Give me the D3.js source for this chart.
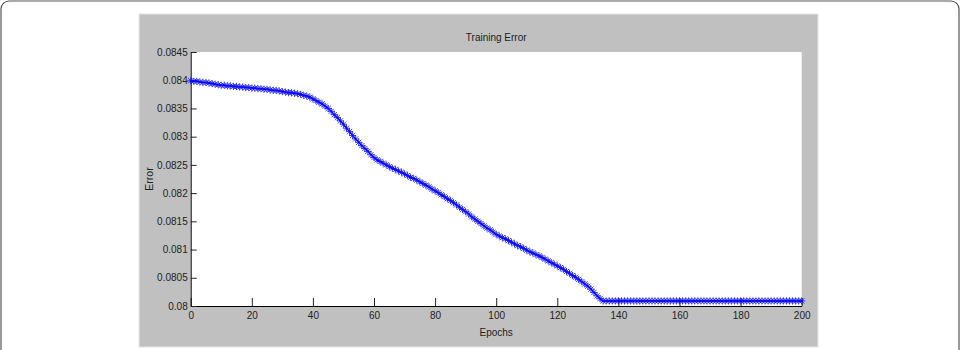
<!DOCTYPE html>
<html>
<head>
<meta charset="utf-8">
<script src="https://cdn.jsdelivr.net/npm/d3@7"></script>
<style>
  body { margin: 0; background: #ffffff; }
  svg { display: block; }
  .tick text { font-family: "Liberation Sans Narrow", "Arial Narrow", "Liberation Sans", Arial, sans-serif; font-size: 10px; fill: #222; }
  .lbl { font-family: "Liberation Sans Narrow", "Arial Narrow", "Liberation Sans", Arial, sans-serif; font-size: 10px; fill: #222; }
</style>
</head>
<body>
<div id="chart"></div>
<script>
// training error per epoch (0..200)
var epochs = d3.range(0, 201);
var errorValues = [
    0.08399, 0.08398, 0.08398, 0.08397, 0.08396, 0.08396, 0.08395, 0.08394, 0.08393, 0.08392,
    0.08391, 0.08391, 0.08390, 0.08390, 0.08389, 0.08389, 0.08388, 0.08388, 0.08387, 0.08387,
    0.08386, 0.08386, 0.08385, 0.08385, 0.08384, 0.08384, 0.08383, 0.08382, 0.08382, 0.08381,
    0.08380, 0.08379, 0.08378, 0.08378, 0.08377, 0.08376, 0.08375, 0.08373, 0.08372, 0.08370,
    0.08367, 0.08364, 0.08361, 0.08358, 0.08354, 0.08350, 0.08345, 0.08339, 0.08334, 0.08328,
    0.08322, 0.08315, 0.08309, 0.08302, 0.08296, 0.08290, 0.08284, 0.08279, 0.08274, 0.08268,
    0.08263, 0.08259, 0.08256, 0.08253, 0.08250, 0.08247, 0.08244, 0.08242, 0.08239, 0.08237,
    0.08234, 0.08231, 0.08228, 0.08226, 0.08223, 0.08220, 0.08217, 0.08214, 0.08211, 0.08207,
    0.08204, 0.08201, 0.08197, 0.08194, 0.08190, 0.08187, 0.08183, 0.08179, 0.08175, 0.08171,
    0.08167, 0.08163, 0.08158, 0.08154, 0.08150, 0.08146, 0.08142, 0.08138, 0.08135, 0.08131,
    0.08127, 0.08124, 0.08121, 0.08119, 0.08116, 0.08113, 0.08110, 0.08107, 0.08105, 0.08102,
    0.08099, 0.08096, 0.08094, 0.08091, 0.08089, 0.08086, 0.08083, 0.08080, 0.08077, 0.08074,
    0.08071, 0.08068, 0.08065, 0.08061, 0.08058, 0.08054, 0.08051, 0.08047, 0.08043, 0.08039,
    0.08035, 0.08030, 0.08024, 0.08018, 0.08013, 0.08009, 0.08009, 0.08009, 0.08009, 0.08009,
    0.08009, 0.08009, 0.08009, 0.08009, 0.08009, 0.08009, 0.08009, 0.08009, 0.08009, 0.08009,
    0.08009, 0.08009, 0.08009, 0.08009, 0.08009, 0.08009, 0.08009, 0.08009, 0.08009, 0.08009,
    0.08009, 0.08009, 0.08009, 0.08009, 0.08009, 0.08009, 0.08009, 0.08009, 0.08009, 0.08009,
    0.08009, 0.08009, 0.08009, 0.08009, 0.08009, 0.08009, 0.08009, 0.08009, 0.08009, 0.08009,
    0.08009, 0.08009, 0.08009, 0.08009, 0.08009, 0.08009, 0.08009, 0.08009, 0.08009, 0.08009,
    0.08009, 0.08009, 0.08009, 0.08009, 0.08009, 0.08009, 0.08009, 0.08009, 0.08009, 0.08009,
    0.08009
];
var xTicks = [0, 20, 40, 60, 80, 100, 120, 140, 160, 180, 200];
var yTicks = [0.08, 0.0805, 0.081, 0.0815, 0.082, 0.0825, 0.083, 0.0835, 0.084, 0.0845];
var yTickLabels = ["0.08", "0.0805", "0.081", "0.0815", "0.082", "0.0825", "0.083", "0.0835", "0.084", "0.0845"];

var width = 963, height = 350;

var svg = d3.select("#chart").append("svg")
    .attr("width", width)
    .attr("height", height);

// outer panel frame (bottom runs off the picture)
svg.append("rect")
    .attr("x", 1).attr("y", 1)
    .attr("width", 958).attr("height", 370)
    .attr("rx", 8)
    .attr("fill", "#ffffff")
    .attr("stroke", "#555")
    .attr("stroke-width", 1.2);

// grey figure background
svg.append("rect")
    .attr("x", 139).attr("y", 14)
    .attr("width", 679).attr("height", 333)
    .attr("fill", "#c0c0c0")
    .attr("stroke", "#e6e6e6")
    .attr("stroke-width", 1);

var x = d3.scaleLinear().domain([0, 200]).range([190.7, 801.7]);
var y = d3.scaleLinear().domain([0.08, 0.0845]).range([306, 52]);

// white axes area
svg.append("rect")
    .attr("x", x(0)).attr("y", y(0.0845))
    .attr("width", x(200) - x(0)).attr("height", y(0.08) - y(0.0845))
    .attr("fill", "#ffffff");

var xAxis = d3.axisBottom(x)
    .tickValues(xTicks)
    .tickSizeInner(-8)
    .tickSizeOuter(0)
    .tickPadding(6);

var yAxis = d3.axisLeft(y)
    .tickValues(yTicks)
    .tickFormat(function (d, i) { return yTickLabels[i]; })
    .tickSizeInner(-6)
    .tickSizeOuter(0)
    .tickPadding(3);

var gx = svg.append("g")
    .attr("transform", "translate(0," + y(0.08) + ")")
    .call(xAxis);
var gy = svg.append("g")
    .attr("transform", "translate(" + x(0) + ",0)")
    .call(yAxis);

[gx, gy].forEach(function (g) {
    g.select(".domain").attr("stroke", "#000").attr("stroke-width", 1);
    g.selectAll(".tick line").attr("stroke", "#222").attr("stroke-width", 1);
});
gx.selectAll(".tick text").attr("dy", "0.71em");

// the line
var points = epochs.map(function (e, i) { return [e, errorValues[i]]; });

var line = d3.line()
    .x(function (d) { return x(d[0]); })
    .y(function (d) { return y(d[1]); });

svg.append("path")
    .datum(points)
    .attr("d", line)
    .attr("fill", "none")
    .attr("stroke", "#0000ff")
    .attr("stroke-width", 1.5);

// asterisk markers
var s = 3.6, t = 2.6;
var star = "M0," + (-s) + "V" + s + "M" + (-s) + ",0H" + s +
           "M" + (-t) + "," + (-t) + "L" + t + "," + t +
           "M" + (-t) + "," + t + "L" + t + "," + (-t);

svg.append("g").selectAll("path")
    .data(points)
    .enter().append("path")
    .attr("transform", function (d) { return "translate(" + x(d[0]) + "," + y(d[1]) + ")"; })
    .attr("d", star)
    .attr("fill", "none")
    .attr("stroke", "#0a0aff")
    .attr("stroke-opacity", 0.8)
    .attr("stroke-width", 1);

// labels
svg.append("text")
    .attr("class", "lbl")
    .attr("x", (x(0) + x(200)) / 2)
    .attr("y", 41)
    .attr("text-anchor", "middle")
    .text("Training Error");

svg.append("text")
    .attr("class", "lbl")
    .attr("x", (x(0) + x(200)) / 2)
    .attr("y", 336)
    .attr("text-anchor", "middle")
    .text("Epochs");

svg.append("text")
    .attr("class", "lbl")
    .attr("transform", "translate(153," + y(0.08225) + ") rotate(-90)")
    .attr("text-anchor", "middle")
    .style("font-family", "'Liberation Sans', Arial, sans-serif")
    .style("font-size", "10.5px")
    .text("Error");
</script>
</body>
</html>
